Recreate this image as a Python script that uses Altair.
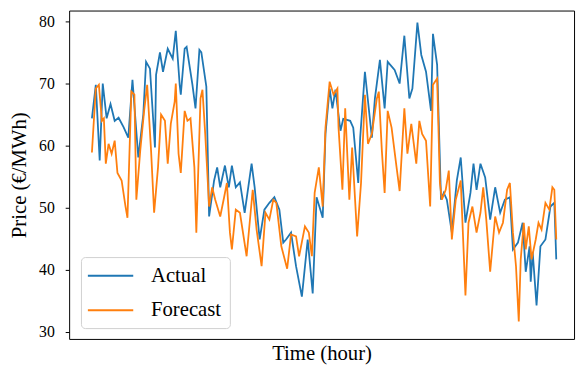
import altair as alt
import pandas as pd

actual_hour = [0.0, 1.4, 2.8, 3.9, 5.3, 6.7, 8.2, 9.6, 11.4, 13.1, 14.6, 16.7, 18.5, 19.5, 20.9,
               22.7, 23.1, 24.5, 25.6, 27.3, 29.1, 30.2, 31.6, 32.0, 33.4, 34.1, 36.2, 37.3, 38.7,
               39.4, 41.2, 42.2, 44.0, 45.1, 46.2, 47.9, 49.3, 50.4, 51.8, 53.3, 55.0, 57.5, 58.6,
               60.4, 62.1, 63.9, 65.7, 67.5, 68.9, 69.9, 71.7, 73.5, 75.6, 77.7, 79.5, 80.9, 83.1,
               84.1, 85.6, 86.6, 87.7, 89.5, 90.5, 93.0, 94.1, 95.9, 96.6, 98.3, 100.8, 101.9,
               103.7, 105.4, 106.5, 109.0, 110.8, 112.5, 114.3, 115.4, 117.2, 118.6, 120.3, 122.1,
               122.8, 124.3, 125.7, 126.7, 127.8, 129.6, 131.4, 132.8, 134.5, 136.3, 137.4, 138.5,
               139.9, 141.6, 143.4, 145.2, 147.0, 148.7, 150.5, 151.6, 153.4, 155.1, 156.2, 157.6,
               158.0, 158.7, 160.1, 161.5, 163.3, 165.1, 166.5, 167.2]
actual_price = [64.4, 69.8, 57.6, 70.0, 64.4, 66.7, 64.0, 64.5, 63.0, 61.3, 70.6, 58.1, 65.0, 73.5, 72.4,
                59.7, 71.4, 75.0, 71.9, 75.6, 74.0, 78.5, 69.8, 68.2, 75.6, 75.9, 69.8, 66.0, 75.4,
                75.0, 69.5, 48.6, 54.4, 56.5, 53.3, 56.8, 53.3, 56.8, 53.3, 54.1, 49.2, 57.1, 53.3,
                44.9, 49.7, 50.8, 51.7, 49.7, 44.4, 44.9, 46.0, 40.6, 35.7, 44.9, 36.2, 51.7, 48.4,
                61.9, 69.2, 66.0, 69.0, 62.4, 64.3, 64.0, 62.9, 54.0, 61.3, 71.9, 61.3, 67.6,
                73.8, 66.0, 73.5, 72.2, 70.0, 77.7, 67.6, 69.2, 79.8, 74.6, 71.9, 65.6,
                78.0, 73.0, 51.3, 52.4, 51.3, 46.0, 54.4, 58.1, 47.6, 52.4, 57.1, 52.9,
                57.1, 54.9, 48.1, 53.3, 49.2, 51.3, 51.7, 43.3, 44.4, 47.6, 39.7, 43.8,
                38.1, 42.9, 34.3, 43.8, 44.9, 50.2, 50.8, 41.7]

forecast_hour = [0.0, 1.4, 2.5, 3.6, 4.3, 5.0, 6.0, 7.1, 8.2, 9.2, 10.7, 12.1, 12.8, 14.2, 15.3, 16.0,
                 17.4, 18.8, 19.9, 21.3, 22.4, 23.8, 24.9, 26.3, 27.3, 28.4, 29.8, 30.2, 31.2, 32.0,
                 33.4, 34.4, 35.5, 36.9, 37.6, 39.1, 39.8, 40.8, 42.2, 43.3, 44.4, 46.2, 47.6, 48.6,
                 49.7, 50.4, 51.8, 53.3, 55.7, 57.9, 59.3, 61.1, 62.5, 63.9, 65.3, 66.4, 68.2, 70.3,
                 71.7, 73.5, 74.6, 76.7, 78.1, 79.2, 80.2, 81.7, 83.1, 84.1, 85.6, 87.0, 88.4, 88.8,
                 90.2, 91.2, 92.7, 93.7, 95.5, 96.9, 98.3, 99.4, 100.8, 102.6, 103.3, 104.4, 105.4,
                 106.5, 107.9, 109.7, 110.8, 112.5, 113.6, 115.0, 116.8, 117.9, 118.9, 120.3, 121.8,
                 122.8, 124.3, 125.3, 126.0, 127.4, 128.5, 129.6, 131.0, 132.8, 134.5, 135.6, 137.0,
                 138.5, 139.9, 140.9, 142.0, 143.4, 145.2, 146.6, 148.0, 149.5, 150.5, 151.6, 152.7,
                 153.7, 154.4, 155.5, 156.2, 157.3, 158.3, 159.8, 160.8, 161.9, 163.3, 164.7, 165.8,
                 166.5, 167.2]
forecast_price = [58.9, 69.2, 69.8, 64.0, 64.4, 57.1, 60.3, 58.7, 60.8, 55.6, 54.4, 50.2, 48.4, 68.7, 68.2, 51.3,
                  59.2, 65.6, 69.8, 59.2, 49.2, 56.5, 65.0, 64.0, 57.1, 63.5, 67.1, 70.0, 58.7, 55.6,
                  65.6, 64.0, 64.4, 56.5, 46.0, 67.6, 69.0, 61.9, 50.2, 53.3, 51.3, 48.6, 51.7, 54.0,
                  46.0, 43.3, 49.7, 49.2, 42.2, 52.9, 46.5, 40.6, 49.2, 48.1, 51.3, 50.8, 43.8, 40.2,
                  45.7, 45.4, 42.2, 47.0, 46.0, 42.2, 52.4, 56.5, 50.2, 62.9, 70.3, 68.2, 69.2, 62.9,
                  52.9, 66.0, 51.3, 59.7, 45.4, 54.0, 68.2, 60.3, 61.9, 67.6, 68.7, 59.2, 52.4,
                  65.6, 62.9, 56.5, 52.7, 66.0, 58.7, 63.5, 57.1, 64.0, 61.9, 60.8, 50.2,
                  69.8, 70.8, 54.0, 51.3, 52.9, 56.0, 44.9, 51.3, 54.4, 35.9, 47.6, 50.2,
                  46.0, 49.2, 53.3, 48.1, 39.7, 48.6, 46.0, 47.6, 52.9, 54.0, 46.0, 40.6,
                  31.7, 41.7, 47.6, 43.3, 47.0, 41.7, 44.9, 47.6, 46.5, 50.8, 49.7, 53.3,
                  52.9, 44.9]

series_names = ["Actual", "Forecast"]
series_colors = ["#1f77b4", "#ff7f0e"]
y_ticks = [30, 40, 50, 60, 70, 80]

df = pd.concat([
    pd.DataFrame({"hour": actual_hour, "price": actual_price, "series": "Actual", "order": range(len(actual_hour))}),
    pd.DataFrame({"hour": forecast_hour, "price": forecast_price, "series": "Forecast", "order": range(len(forecast_hour))}),
])

FONT = "Liberation Serif"

chart = alt.Chart(df).mark_line(strokeWidth=1.8).encode(
    x=alt.X("hour:Q",
            scale=alt.Scale(domain=[-8.2, 173.6], nice=False, zero=False),
            axis=alt.Axis(title="Time (hour)", labels=False, ticks=False, domain=False, grid=False,
                          titleFont=FONT, titleFontSize=21, titleFontWeight="normal",
                          titleColor="#000", titlePadding=4)),
    y=alt.Y("price:Q",
            scale=alt.Scale(domain=[28.89, 81.75], nice=False, zero=False),
            axis=alt.Axis(title="Price (€/MWh)", values=y_ticks, grid=False, domain=False,
                          tickSize=4, tickColor="#000", tickWidth=1,
                          labelFont=FONT, labelFontSize=16, labelColor="#000", labelPadding=11,
                          titleFont=FONT, titleFontSize=21, titleFontWeight="normal",
                          titleColor="#000", titlePadding=9)),
    color=alt.Color("series:N",
                    scale=alt.Scale(domain=series_names, range=series_colors),
                    legend=alt.Legend(title=None, orient="none", legendX=12, legendY=250,
                                      symbolType="M-2.3,0H2.3", symbolSize=400, symbolStrokeWidth=2,
                                      symbolOffset=11, labelOffset=30,
                                      labelFont=FONT, labelFontSize=21, labelColor="#000",
                                      rowPadding=14, padding=8, cornerRadius=4,
                                      strokeColor="#d0d0d0", fillColor="rgba(255,255,255,0.8)")),
    order="order:Q",
).properties(
    width=512, height=333,
    autosize=alt.AutoSizeParams(type="none"),
    padding={"left": 62, "top": 0, "right": 3, "bottom": 35},
).configure_view(
    stroke="#000", strokeWidth=1
)

chart.save("out.html", embed_options={"renderer": "svg", "actions": False})
